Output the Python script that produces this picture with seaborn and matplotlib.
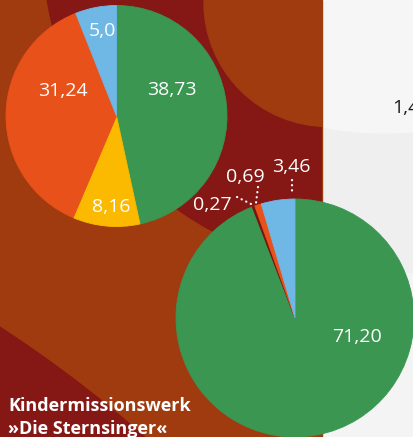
import matplotlib
matplotlib.use("Agg")
import matplotlib.pyplot as plt
from matplotlib.patches import Circle, Rectangle
import seaborn as sns

# Shares (in %) as printed on the slices
labels_top = ["38,73", "8,16", "31,24", "5,0"]
labels_bottom = ["71,20", "0,27", "0,69", "3,46"]
values_top = [float(s.replace(",", ".")) for s in labels_top]
values_bottom = [float(s.replace(",", ".")) for s in labels_bottom]
title_lines = ["Kindermissionswerk", "»Die Sternsinger«"]
side_label = "1,4"

GREEN, YELLOW, ORANGE, BLUE, DARK = "#3a9651", "#fbb900", "#e9511a", "#6fb8e6", "#7a1511"
colors_top = [GREEN, YELLOW, ORANGE, BLUE]
colors_bottom = [GREEN, DARK, ORANGE, BLUE]
PANEL_RED, PANEL_BROWN = "#851714", "#9f3b0f"

sns.set_theme(style="white")
plt.rcParams["font.family"] = ["Open Sans", "DejaVu Sans"]

W, H = 414, 437


def Y(y):
    """Convert a top-down pixel row into the y-up axes coordinate."""
    return H - y


fig = plt.figure(figsize=(W / 100, H / 100), dpi=100)
ax = fig.add_axes([0, 0, 1, 1])
ax.set_xlim(0, W)
ax.set_ylim(0, H)
ax.axis("off")

# light grey side area
ax.add_patch(Rectangle((0, 0), W, H, color="#efefef", zorder=0))
ax.add_patch(Rectangle((322, 0), W - 322, Y(273), color="#f4f4f4", zorder=0.1))
ax.add_patch(Circle((385, Y(-200)), 333, color="#f6f6f6", zorder=0.2))

# coloured panel with overlapping discs
panel = Rectangle((0, 0), 322, H, color=PANEL_BROWN, zorder=1)
ax.add_patch(panel)
for (cx, cy, r, col) in [(364, -52, 321, PANEL_RED),
                         (328, 2.5, 124, PANEL_BROWN),
                         (-700, 1400, 1281, PANEL_RED)]:
    disc = Circle((cx, Y(cy)), r, color=col, zorder=1.5)
    ax.add_patch(disc)
    disc.set_clip_path(panel)

wedge_kw = dict(linewidth=0.6, zorder=5)
w1, _ = ax.pie(values_top, colors=colors_top, startangle=90, counterclock=False,
               center=(116.5, Y(116)), radius=110.5, wedgeprops=wedge_kw, frame=True)
w2, _ = ax.pie(values_bottom, colors=colors_bottom, startangle=90, counterclock=False,
               center=(295, Y(318)), radius=119, wedgeprops=wedge_kw, frame=True)
for w in list(w1) + list(w2):
    w.set_edgecolor(w.get_facecolor())
ax.set_xlim(0, W)
ax.set_ylim(0, H)
ax.set_aspect("equal")
ax.axis("off")

label_font = dict(color="white", fontsize=14, ha="center", va="center", zorder=10)
pos_top = [(172, 90), (111, 207), (63, 91), (102, 31)]
pos_bottom = [(357, 337), (212, 205), (245, 177), (291, 167)]
for lab, (x, y) in zip(labels_top, pos_top):
    ax.text(x, Y(y), lab, **label_font)
for lab, (x, y) in zip(labels_bottom, pos_bottom):
    ax.text(x, Y(y), lab, **label_font)

# dotted leaders for the thin slices
for (x0, y0), (x1, y1) in [((237, 197), (253, 205)),
                           ((258, 187), (256, 203)),
                           ((292, 180), (292, 193))]:
    ax.plot([x0, x1], [Y(y0), Y(y1)], color="white", lw=1.6,
            linestyle=(0, (0.1, 2.2)), dash_capstyle="round", zorder=10)

ax.text(8, Y(411), title_lines[0], color="white", fontsize=13, fontweight="bold",
        ha="left", va="baseline", zorder=10)
ax.text(8, Y(434), title_lines[1], color="white", fontsize=13, fontweight="bold",
        ha="left", va="baseline", zorder=10)

ax.text(392, Y(113), side_label, color="#1e1e1e", fontsize=14,
        ha="left", va="baseline", zorder=10)

fig.savefig("out.png", dpi=100)
